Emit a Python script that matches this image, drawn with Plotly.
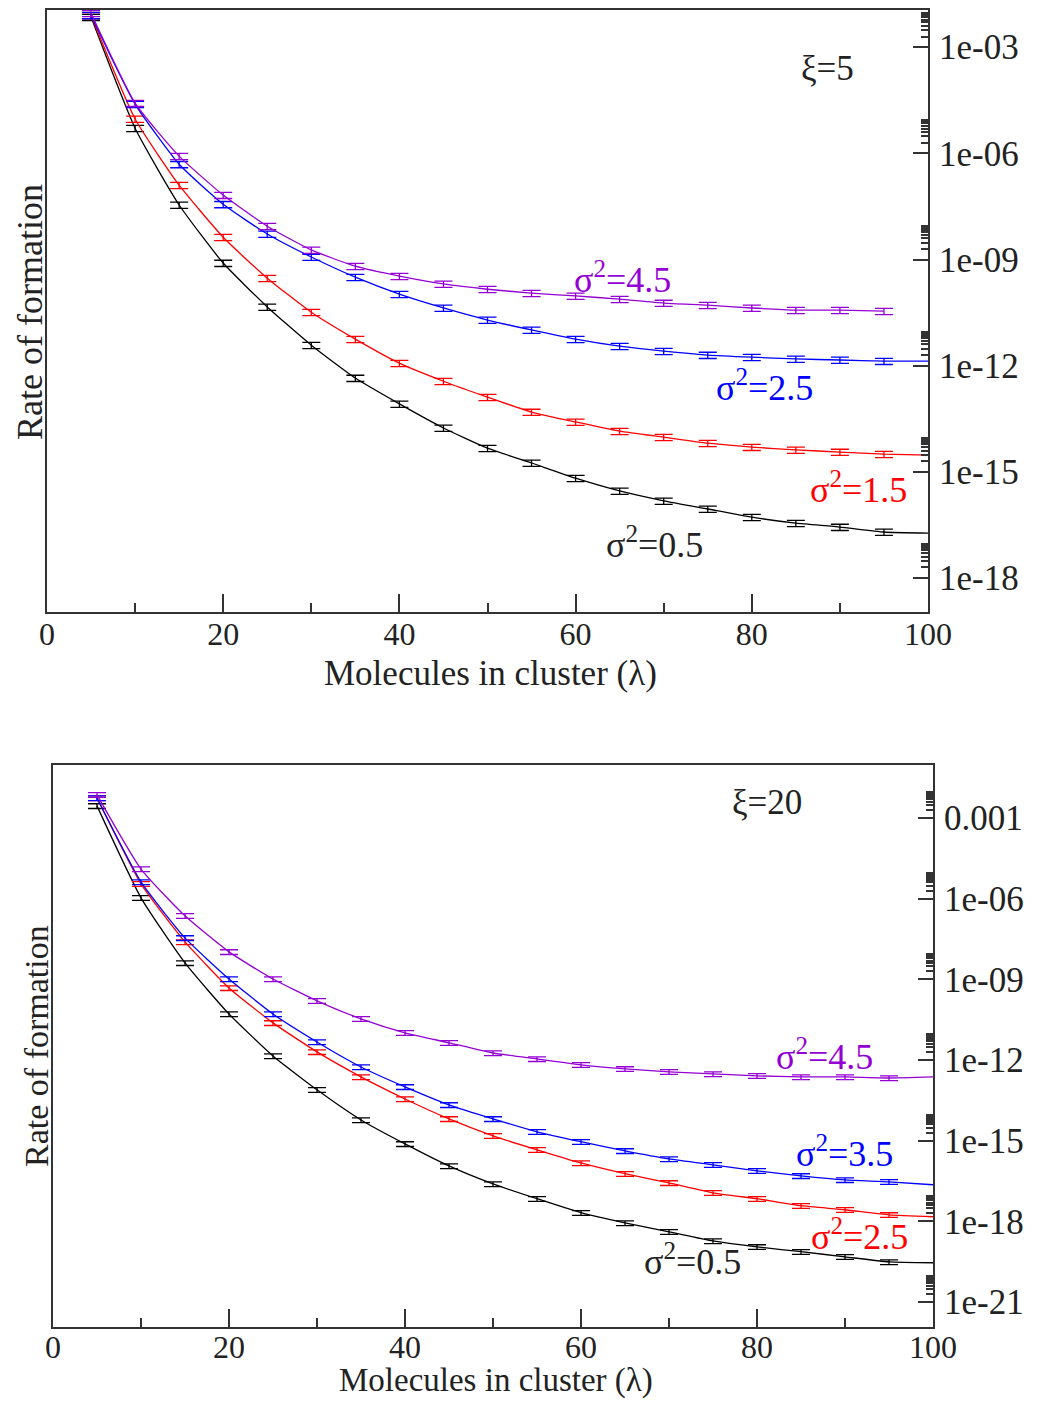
import plotly.graph_objects as go

# ---------------- data (log10 of rate of formation) ----------------
lam = [5, 10, 15, 20, 25, 30, 35, 40, 45, 50, 55, 60, 65, 70, 75, 80, 85, 90, 95]
lam_end = 100

# Panel xi = 5
top_s05 = [-2.15, -5.29, -7.46, -9.10, -10.34, -11.42, -12.35, -13.08, -13.76, -14.33,
           -14.75, -15.18, -15.54, -15.82, -16.05, -16.28, -16.45, -16.56, -16.70]
top_s05_end = -16.73
top_s15 = [-2.10, -5.03, -6.90, -8.37, -9.53, -10.49, -11.25, -11.93, -12.44, -12.89,
           -13.31, -13.59, -13.85, -14.02, -14.19, -14.30, -14.38, -14.44, -14.50]
top_s15_end = -14.53
top_s25 = [-2.10, -4.61, -6.31, -7.44, -8.28, -8.93, -9.50, -9.98, -10.37, -10.71,
           -10.99, -11.25, -11.45, -11.59, -11.70, -11.76, -11.81, -11.84, -11.87]
top_s25_end = -11.87
top_s45 = [-2.04, -4.58, -6.08, -7.18, -8.06, -8.73, -9.19, -9.47, -9.69, -9.84,
           -9.95, -10.03, -10.12, -10.23, -10.29, -10.37, -10.43, -10.43, -10.46]

# Panel xi = 20
bot_s05 = [-2.55, -5.97, -8.39, -10.29, -11.85, -13.11, -14.23, -15.12, -15.94, -16.61,
           -17.16, -17.68, -18.06, -18.39, -18.73, -18.95, -19.13, -19.32, -19.51]
bot_s05_end = -19.54
bot_s25 = [-2.26, -5.45, -7.61, -9.32, -10.62, -11.70, -12.63, -13.45, -14.19, -14.82,
           -15.34, -15.83, -16.23, -16.57, -16.94, -17.16, -17.42, -17.57, -17.76]
bot_s25_end = -17.83
bot_s35 = [-2.26, -5.38, -7.46, -8.99, -10.29, -11.33, -12.26, -13.00, -13.67, -14.19,
           -14.67, -15.04, -15.38, -15.68, -15.90, -16.12, -16.31, -16.46, -16.53]
bot_s35_end = -16.64
bot_s45 = [-2.14, -4.90, -6.64, -7.98, -8.99, -9.80, -10.47, -10.99, -11.36, -11.74,
           -11.96, -12.18, -12.33, -12.44, -12.52, -12.59, -12.63, -12.63, -12.67]
bot_s45_end = -12.63

top_ticks = [-3, -6, -9, -12, -15, -18]
top_ticktext = ["1e-03", "1e-06", "1e-09", "1e-12", "1e-15", "1e-18"]
bot_ticks = [-3, -6, -9, -12, -15, -18, -21]
bot_ticktext = ["0.001", "1e-06", "1e-09", "1e-12", "1e-15", "1e-18", "1e-21"]
x_ticks = [0, 20, 40, 60, 80, 100]
x_minor = [10, 30, 50, 70, 90]

BLACK = "#000000"
RED = "#ff0000"
BLUE = "#0000ff"
VIOLET = "#9400d3"
FONT = "Liberation Serif"
AXC = "#333333"
TXT = "#222222"

fig = go.Figure()


def add_series(xa, ya, logs, end, color):
    ys = [10 ** v for v in logs]
    lx = list(lam)
    ly = list(ys)
    if end is not None:
        lx = lx + [lam_end]
        ly = ly + [10 ** end]
    fig.add_trace(go.Scatter(x=lx, y=ly, mode="lines", xaxis=xa, yaxis=ya,
                             line=dict(color=color, width=1.3, shape="spline", smoothing=0.5),
                             showlegend=False, hoverinfo="skip"))
    fig.add_trace(go.Scatter(x=lam, y=ys, mode="markers", xaxis=xa, yaxis=ya,
                             marker=dict(size=2, color=color, opacity=0),
                             error_y=dict(type="percent", value=20, width=9, thickness=1.3, color=color),
                             showlegend=False))


add_series("x", "y", top_s05, top_s05_end, BLACK)
add_series("x", "y", top_s15, top_s15_end, RED)
add_series("x", "y", top_s25, top_s25_end, BLUE)
add_series("x", "y", top_s45, None, VIOLET)

add_series("x2", "y2", bot_s05, bot_s05_end, BLACK)
add_series("x2", "y2", bot_s25, bot_s25_end, RED)
add_series("x2", "y2", bot_s35, bot_s35_end, BLUE)
add_series("x2", "y2", bot_s45, bot_s45_end, VIOLET)


def minor_vals(majors):
    return [k * 10 ** m for m in majors for k in range(2, 10)]


def xaxis_cfg(domain, anchor, standoff):
    return dict(domain=domain, anchor=anchor, range=[0, 100], tickmode="array",
                tickvals=x_ticks, ticks="inside", ticklen=18, tickwidth=2,
                tickcolor=AXC, showline=True, linecolor=AXC, linewidth=2, mirror=True,
                showgrid=False, zeroline=False, automargin=False, ticklabelstandoff=standoff,
                tickfont=dict(family=FONT, size=32, color=TXT),
                minor=dict(tickmode="array", tickvals=x_minor, ticks="inside",
                           ticklen=9, tickwidth=2, tickcolor=AXC, showgrid=False))


def yaxis_cfg(domain, anchor, rng, majors, text):
    return dict(domain=domain, anchor=anchor, side="right", type="log", range=rng,
                tickmode="array", tickvals=[10 ** m for m in majors], ticktext=text,
                ticks="inside", ticklen=15, tickwidth=2, tickcolor=AXC,
                showline=True, linecolor=AXC, linewidth=2, mirror=True,
                showgrid=False, zeroline=False, automargin=False, ticklabelstandoff=2,
                tickfont=dict(family=FONT, size=35, color=TXT),
                minor=dict(tickmode="array", tickvals=minor_vals(majors), ticks="inside",
                           ticklen=7, tickwidth=1.5, tickcolor=AXC, showgrid=False))


W, H = 1037, 1401
fig.update_layout(
    template="none",
    width=W, height=H,
    margin=dict(l=0, r=0, t=0, b=0, pad=0),
    paper_bgcolor="white", plot_bgcolor="white",
    font=dict(family=FONT, size=34, color=TXT),
    showlegend=False,
    xaxis=xaxis_cfg([47 / W, 928 / W], "y", -7),
    yaxis=yaxis_cfg([1 - 612 / H, 1 - 10 / H], "x", [-18.96, -1.95], top_ticks, top_ticktext),
    xaxis2=xaxis_cfg([53 / W, 933 / W], "y2", -9),
    yaxis2=yaxis_cfg([1 - 1327 / H, 1 - 765 / H], "x2", [-21.93, -1.03], bot_ticks, bot_ticktext),
)

ann = []


def label(text, x, y, color, xr, yr, size=36):
    ann.append(dict(text=text, x=x, y=y, xref=xr, yref=yr, showarrow=False,
                    font=dict(family=FONT, size=size, color=color),
                    xanchor="center", yanchor="middle"))


label("ξ=5", 88.6, -3.59, TXT, "x", "y", 35)
label("σ<sup>2</sup>=4.5", 65.3, -9.50, VIOLET, "x", "y")
label("σ<sup>2</sup>=2.5", 81.4, -12.55, BLUE, "x", "y")
label("σ<sup>2</sup>=1.5", 92.1, -15.43, RED, "x", "y")
label("σ<sup>2</sup>=0.5", 68.9, -17.01, TXT, "x", "y")

label("ξ=20", 81.1, -2.41, TXT, "x2", "y2", 35)
label("σ<sup>2</sup>=4.5", 87.7, -11.81, VIOLET, "x2", "y2")
label("σ<sup>2</sup>=3.5", 89.9, -15.42, BLUE, "x2", "y2")
label("σ<sup>2</sup>=2.5", 91.7, -18.50, RED, "x2", "y2")
label("σ<sup>2</sup>=0.5", 72.7, -19.43, TXT, "x2", "y2")

# axis titles
ann.append(dict(text="Molecules in cluster (λ)", x=490 / W, y=1 - 674 / H, xref="paper", yref="paper",
                showarrow=False, font=dict(family=FONT, size=35, color=TXT),
                xanchor="center", yanchor="middle"))
ann.append(dict(text="Molecules in cluster (λ)", x=496 / W, y=0, xref="paper", yref="paper",
                showarrow=False, font=dict(family=FONT, size=33, color=TXT),
                xanchor="center", yanchor="bottom"))
ann.append(dict(text="Rate of formation", x=30 / W, y=1 - 312 / H, xref="paper", yref="paper",
                showarrow=False, textangle=-90, font=dict(family=FONT, size=36, color=TXT),
                xanchor="center", yanchor="middle"))
ann.append(dict(text="Rate of formation", x=36 / W, y=1 - 1046 / H, xref="paper", yref="paper",
                showarrow=False, textangle=-90, font=dict(family=FONT, size=34, color=TXT),
                xanchor="center", yanchor="middle"))

fig.update_layout(annotations=ann)
fig.write_html("out.html", config={"displayModeBar": False},
               post_script="document.body.style.margin='0';document.body.style.overflow='hidden';")
